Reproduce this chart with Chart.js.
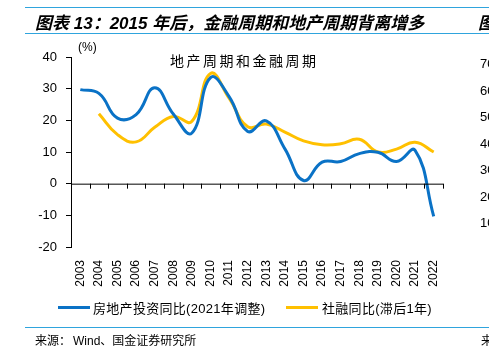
<!DOCTYPE html>
<html>
<head>
<meta charset="utf-8">
<script src="https://cdn.jsdelivr.net/npm/chart.js@4"></script>
<style>
  body { margin: 0; background: #fff; }
  #wrap { position: relative; width: 489px; height: 352px; overflow: hidden; font-family: "Liberation Sans", Arial, "Noto Sans CJK SC", sans-serif; }
  #wrap canvas { position: absolute; left: 0; top: 0; }
  .rule { position: absolute; left: 25px; width: 470px; height: 0; border-top: 1.5px solid #2fa4dd; }
  .txt { position: absolute; white-space: nowrap; color: #000; }
  .title { font-weight: bold; font-style: italic; font-size: 17px; }
  .leg-line { position: absolute; height: 3px; width: 32px; }
</style>
</head>
<body>
<div id="wrap">
  <canvas id="myChart" width="489" height="352"></canvas>
  <div class="rule" style="top:7px"></div>
  <div class="rule" style="top:33px"></div>
  <div class="rule" style="top:327px"></div>
  <div class="txt title" style="left:35px; top:9px">图表 13：2015 年后，金融周期和地产周期背离增多</div>
  <div class="txt title" style="left:478px; top:9px">图</div>
  <div class="txt" style="left:78px; top:40px; font-size:12px">(%)</div>
  <div class="txt" style="left:170px; top:50px; font-size:14px; letter-spacing:2.5px; font-family:'Noto Sans CJK SC'">地产周期和金融周期</div>
  <div class="leg-line" style="left:58px; top:306px; background:#0a72c6"></div>
  <div class="txt" style="left:93px; top:298px; font-size:13px; letter-spacing:0.3px">房地产投资同比(2021年调整)</div>
  <div class="leg-line" style="left:286px; top:306px; background:#ffc000"></div>
  <div class="txt" style="left:322px; top:298px; font-size:13px; letter-spacing:0.3px">社融同比(滞后1年)</div>
  <div class="txt" style="left:35px; top:331px; font-size:12px">来源：</div>
  <div class="txt" style="left:73px; top:331px; font-size:12px">Wind、国金证券研究所</div>
  <div class="txt" style="left:481px; top:331px; font-size:12px">来</div>
  <div class="txt" style="left:480px; top:51px; font-size:13px; line-height:26.5px">70<br>60<br>50<br>40<br>30<br>20<br>10</div>
</div>
<script>
// 数据
var years = ['2003', '2004', '2005', '2006', '2007', '2008', '2009', '2010', '2011', '2012',
             '2013', '2014', '2015', '2016', '2017', '2018', '2019', '2020', '2021', '2022'];
var realEstate = [29.7, 28.5, 20.7, 21.8, 30.3, 22.0, 16.0, 33.5, 27.5, 16.5,
                  19.8, 11.0, 1.0, 6.8, 7.0, 9.5, 9.9, 7.0, 10.5, -10.3];
var tsfLag = [null, 22.1, 15.5, 13.2, 17.8, 21.2, 19.7, 34.8, 27.0, 18.0,
              18.8, 16.3, 13.5, 12.3, 12.6, 14.0, 10.0, 10.9, 13.1, 10.0];
var yTicks = [-20, -10, 0, 10, 20, 30, 40];

// trục 0 với vạch chia giữa các năm
var zeroAxis = {
    id: 'zeroAxis',
    afterDatasetsDraw: function(chart) {
        var x = chart.scales.x, y = chart.scales.y, ctx = chart.ctx;
        var y0 = y.getPixelForValue(0);
        var half = (x.getPixelForValue(1) - x.getPixelForValue(0)) / 2;
        ctx.save();
        ctx.strokeStyle = '#000';
        ctx.lineWidth = 1;
        ctx.beginPath();
        ctx.moveTo(chart.chartArea.left, y0 + 0.5);
        ctx.lineTo(chart.chartArea.right, y0 + 0.5);
        for (var i = 0; i <= years.length; i++) {
            var px = Math.round(x.getPixelForValue(i) - half) + 0.5;
            ctx.moveTo(px, y0);
            ctx.lineTo(px, y0 + 5);
        }
        ctx.stroke();
        ctx.restore();
    }
};

var ctx = document.getElementById('myChart').getContext('2d');
var myChart = new Chart(ctx, {
    type: 'line',
    data: {
        labels: years,
        datasets: [{
            label: '房地产投资同比(2021年调整)',
            data: realEstate,
            borderColor: '#0a72c6',
            borderWidth: 3,
            pointRadius: 0,
            tension: 0.45,
            fill: false
        }, {
            label: '社融同比(滞后1年)',
            data: tsfLag,
            borderColor: '#ffc000',
            borderWidth: 3,
            pointRadius: 0,
            tension: 0.45,
            fill: false
        }]
    },
    options: {
        responsive: false,
        animation: false,
        layout: { padding: { left: 0, right: 46, top: 57, bottom: 0 } },
        plugins: { legend: { display: false }, tooltip: { enabled: false } },
        scales: {
            x: {
                offset: true,
                grid: { display: false },
                border: { display: false },
                ticks: {
                    color: '#000',
                    font: { family: 'Liberation Sans', size: 12 },
                    minRotation: 90,
                    maxRotation: 90,
                    autoSkip: false,
                    padding: 5
                },
                afterFit: function(scale) { scale.height = 105; }
            },
            y: {
                min: -20,
                max: 40,
                afterBuildTicks: function(scale) {
                    scale.ticks = yTicks.map(function(v) { return { value: v }; });
                },
                grid: { drawOnChartArea: false, drawTicks: true, tickLength: 5, color: '#000' },
                border: { display: true, color: '#000', width: 1 },
                ticks: {
                    color: '#000',
                    font: { family: 'Liberation Sans', size: 13 },
                    padding: 9
                },
                afterFit: function(scale) { scale.width = 71; }
            }
        }
    },
    plugins: [zeroAxis]
});
</script>
</body>
</html>
